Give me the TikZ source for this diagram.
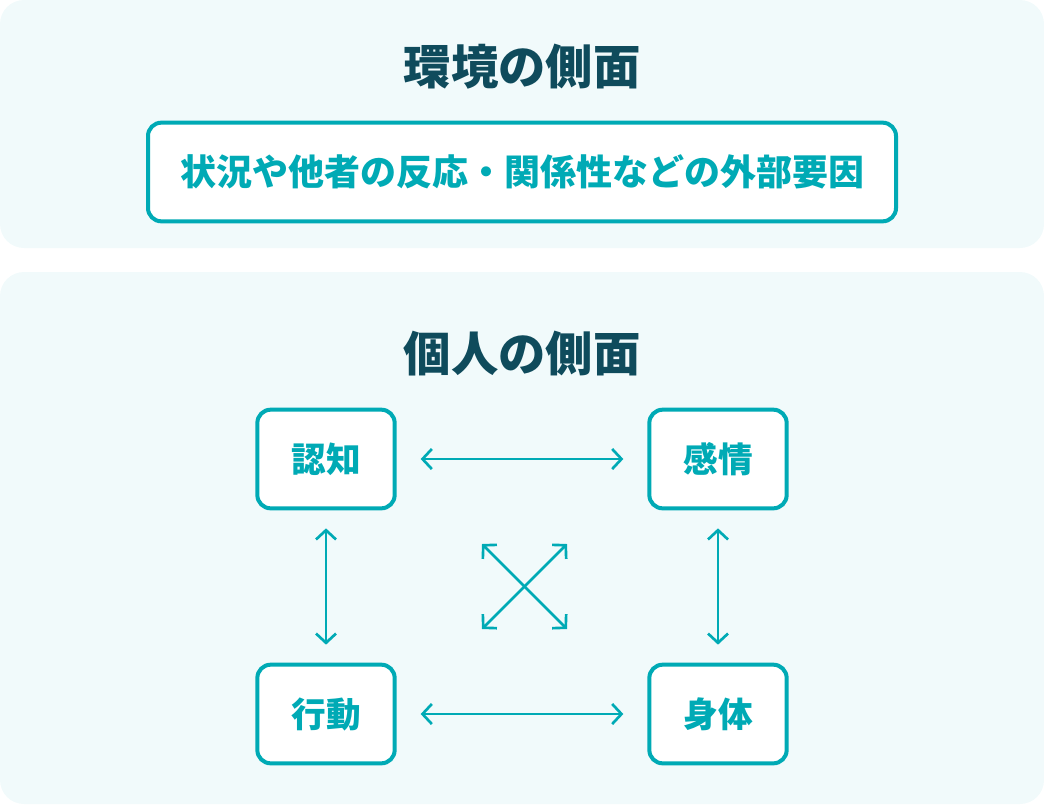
\documentclass[tikz,border=0pt]{standalone}
\usepackage{fontspec}
\setmainfont{Noto Sans CJK JP}
\usetikzlibrary{arrows.meta}
\definecolor{panelbg}{HTML}{F1FAFB}
\definecolor{teal}{HTML}{00AAB5}
\definecolor{headdark}{HTML}{0F4B5C}
\tikzset{
  panel/.style={fill=panelbg, rounded corners=18pt},
  heading/.style={text=headdark, font=\bfseries\fontsize{35.5pt}{40pt}\selectfont},
  factorbox/.style={draw=teal, line width=3pt, fill=white, rounded corners=10pt,
    text=teal, font=\bfseries\fontsize{26pt}{30pt}\selectfont,
    minimum width=103pt, minimum height=74pt},
  link/.style={draw=teal, line width=2pt,
    {Straight Barb[length=7pt,width=15pt]}-{Straight Barb[length=7pt,width=15pt]}}
}
\begin{document}
\begin{tikzpicture}[x=0.75pt, y=-0.75pt]
  \useasboundingbox (0,0) rectangle (1044,804);
  % two panels
  \fill[panel] (0,0) rectangle (1044,248);
  \fill[panel] (0,272) rectangle (1044,804);
  % environment
  \node[heading] (envtitle) at (522,67) {環境の側面};
  \node[factorbox, minimum width=561pt, font=\bfseries\fontsize{27pt}{31pt}\selectfont] (external) at (522,172) {状況や他者の反応・関係性などの外部要因};
  % individual
  \node[heading] (indtitle) at (522,354) {個人の側面};
  \node[factorbox] (cognition) at (326,459) {認知};
  \node[factorbox] (emotion) at (718,459) {感情};
  \node[factorbox] (behavior) at (326,714) {行動};
  \node[factorbox] (body) at (718,714) {身体};
  \coordinate (xa) at (482,544);
  \coordinate (xb) at (567,629);
  \coordinate (xc) at (567,544);
  \coordinate (xd) at (482,629);
  \draw[link] ([xshift=18pt]cognition.east) -- ([xshift=-18pt]emotion.west);
  \draw[link] ([xshift=18pt]behavior.east) -- ([xshift=-18pt]body.west);
  \draw[link] ([yshift=-13.5pt]cognition.south) -- ([yshift=13.5pt]behavior.north);
  \draw[link] ([yshift=-13.5pt]emotion.south) -- ([yshift=13.5pt]body.north);
  \draw[link] (xa) -- (xb);
  \draw[link] (xc) -- (xd);
\end{tikzpicture}
\end{document}
